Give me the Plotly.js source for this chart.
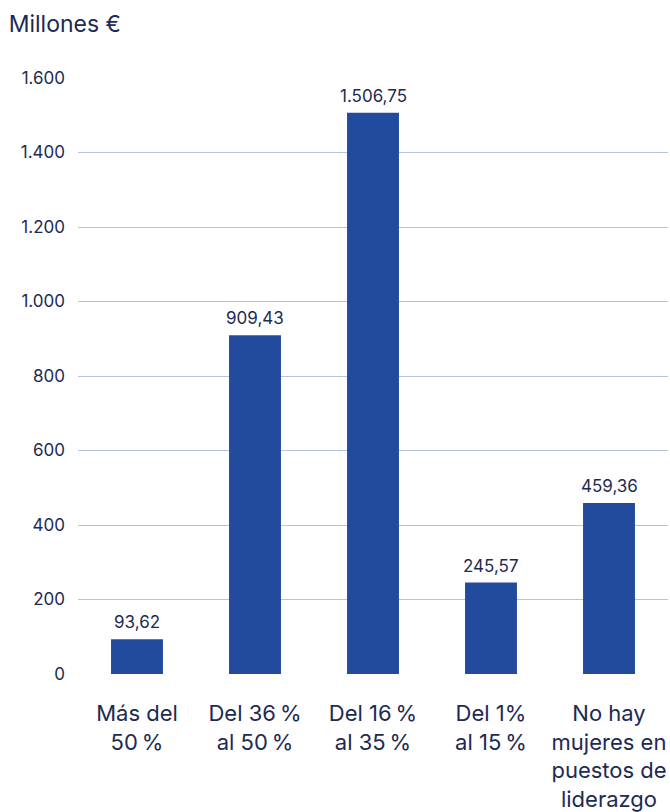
<!DOCTYPE html>
<html><head><meta charset="utf-8">
<script src="https://cdn.plot.ly/plotly-3.0.1.min.js"></script>
<style>html,body{margin:0;padding:0;background:#fff}#c{width:670px;height:812px}</style>
</head><body><div id="c"></div>
<script>
const categories = ["Más del<br>50\u202F%", "Del 36\u202F%<br>al 50\u202F%", "Del 16\u202F%<br>al 35\u202F%", "Del 1%<br>al 15\u202F%", "No hay<br>mujeres en<br>puestos de<br>liderazgo"];
const values = [93.62, 909.43, 1506.75, 245.57, 459.36];
const yTicks = [0, 200, 400, 600, 800, 1000, 1200, 1400, 1600];

function fmt(v){
  const parts = v.toFixed(2).split('.');
  const int = parts[0].replace(/\B(?=(\d{3})+(?!\d))/g, '.');
  return int + ',' + parts[1];
}
const textColor = '#1d2a52';
const fontFam = 'Inter, "Open Sans", sans-serif';

const trace = {
  type: 'bar',
  x: categories,
  y: values,
  marker: {color: '#224b9e'},
  hoverinfo: 'none'
};

const annotations = values.map((v, i) => ({
  x: categories[i], y: v, xref: 'x', yref: 'y',
  text: fmt(v), showarrow: false, yanchor: 'bottom', yshift: 5,
  font: {size: 17, color: textColor, family: fontFam}
}));

const layout = {
  width: 670, height: 812,
  margin: {l: 78, r: 2, t: 78, b: 138},
  paper_bgcolor: '#fff', plot_bgcolor: '#fff',
  separators: ',.',
  bargap: 0.56,
  showlegend: false,
  font: {family: fontFam, color: textColor},
  title: {text: 'Millones €', xref: 'container', yref: 'container', x: 0.013, xanchor: 'left', y: 0.971, yanchor: 'middle',
          font: {size: 23, color: textColor, family: fontFam}},
  xaxis: {
    type: 'category', showgrid: false, zeroline: false, showline: false, ticks: '',
    tickfont: {size: 22, color: textColor, family: fontFam},
    ticklabelstandoff: 24
  },
  yaxis: {
    range: [0, 1600], tickvals: yTicks, tickformat: ',d',
    showgrid: true, gridcolor: '#b5c2e2', gridwidth: 1,
    zeroline: false, showline: false, ticks: '',
    tickfont: {size: 17, color: textColor, family: fontFam},
    ticklabelstandoff: 12
  },
  annotations: annotations
};

Plotly.newPlot('c', [trace], layout, {displayModeBar: false, staticPlot: true});
</script>
</body></html>
